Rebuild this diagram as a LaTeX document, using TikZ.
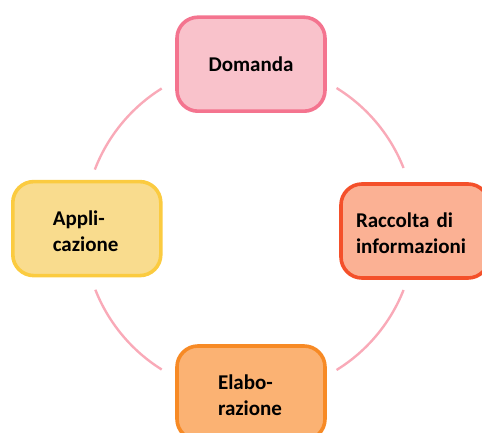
\documentclass[tikz,border=0pt]{standalone}
\usepackage{fontspec}
\setmainfont{Carlito}
\definecolor{arcpink}{HTML}{F9AAB8}
\definecolor{pinkfill}{HTML}{F9C2CB}
\definecolor{pinkline}{HTML}{F4748F}
\definecolor{redfill}{HTML}{FBB194}
\definecolor{redline}{HTML}{F4502A}
\definecolor{yelfill}{HTML}{F9DC8E}
\definecolor{yelline}{HTML}{FBCB40}
\definecolor{orafill}{HTML}{FBB273}
\definecolor{oraline}{HTML}{F78A25}
\tikzset{
  x=1pt,y=1pt,
  box/.style={draw,line width=3.6pt,rounded corners=21pt,minimum width=148pt,minimum height=94pt,
    font=\fontsize{21}{26}\selectfont\bfseries,inner ysep=0pt},
  twoline/.style={align=left,text height=19pt},
  ring/.style={draw=arcpink,line width=2.4pt},
}
\begin{document}
\begin{tikzpicture}
\useasboundingbox (0,0) rectangle (482,432);
\clip (0,0) rectangle (482,432);
\coordinate (c) at (249.5,203);
\draw[ring] ([shift={(58.3:165.7)}]c) coordinate (a1) arc[start angle=58.3,end angle=21.6,radius=165.7];
\draw[ring] ([shift={(-21.6:165.7)}]c) coordinate (a2) arc[start angle=-21.6,end angle=-58.3,radius=165.7];
\draw[ring] ([shift={(-122:165.7)}]c) coordinate (a3) arc[start angle=-122,end angle=-158.5,radius=165.7];
\draw[ring] ([shift={(159:165.7)}]c) coordinate (a4) arc[start angle=159,end angle=122,radius=165.7];
\node[box,twoline,fill=redfill,draw=redline,text width=118pt,inner xsep=15pt] (rac) at (415,201) {Raccolta di\\informazioni};
\node[box,fill=pinkfill,draw=pinkline] (dom) at (251,367.8) {Domanda};
\node[box,twoline,fill=yelfill,draw=yelline,text width=68pt,inner xsep=40pt] (app) at (86.8,203.4) {Appli-\\cazione};
\node[box,twoline,fill=orafill,draw=oraline,text width=66pt,inner xsep=41pt] (ela) at (251,39) {Elabo-\\razione};
\end{tikzpicture}
\end{document}
